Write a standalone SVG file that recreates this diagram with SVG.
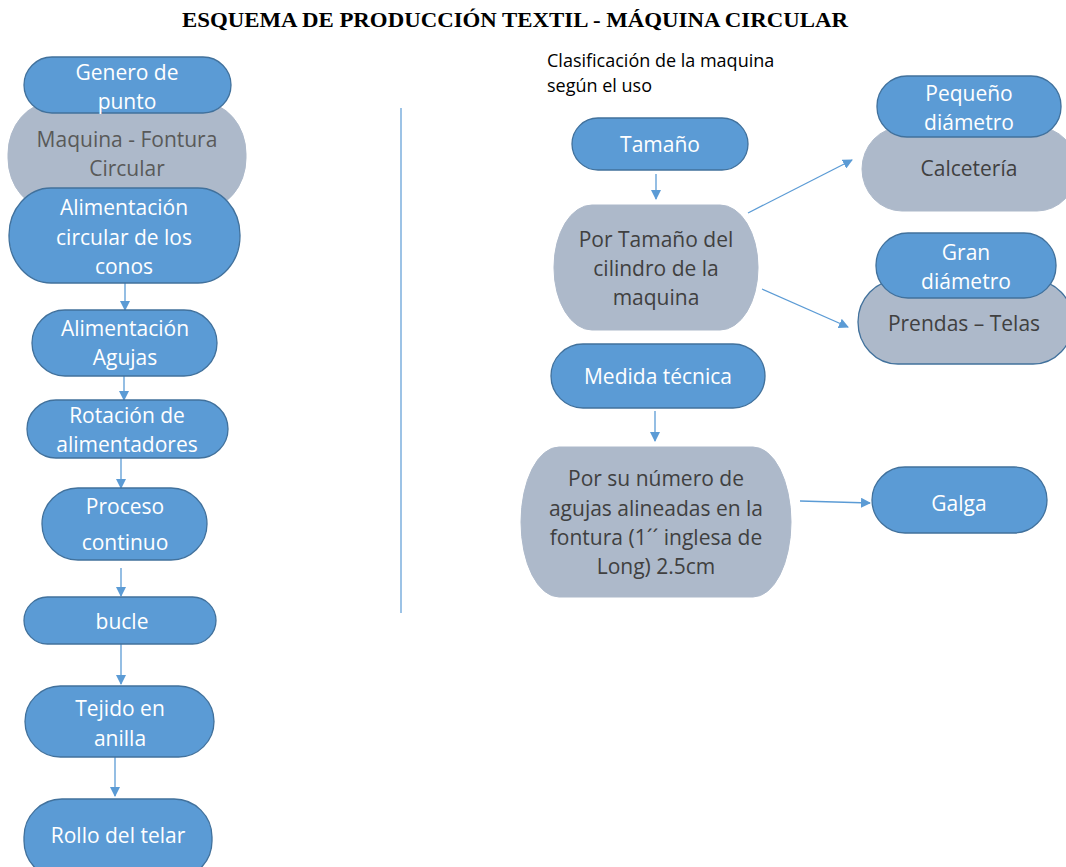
<svg xmlns="http://www.w3.org/2000/svg" width="1066" height="867" viewBox="0 0 1066 867">
<defs>
<marker id="ah" markerWidth="10" markerHeight="10" refX="9" refY="5" orient="auto" markerUnits="userSpaceOnUse">
<path d="M0,0 L10,5 L0,10 Z" fill="#5B9BD5"/>
</marker>
<style>
.b{fill:#5B9BD5;stroke:#41719C;stroke-width:1.3}
.g{fill:#ADB9CA;stroke:#ADB9CA;stroke-width:1}
.gs{fill:#ADB9CA;stroke:#41719C;stroke-width:1.3}
.tw{fill:#FFFFFF;font-family:"Open Sans","Noto Sans",sans-serif;font-size:21px;text-anchor:middle;dominant-baseline:central}
.tg{fill:#404040;font-family:"Open Sans","Noto Sans",sans-serif;font-size:21px;text-anchor:middle;dominant-baseline:central}
.c{stroke:#5B9BD5;stroke-width:1.3;fill:none;marker-end:url(#ah)}
</style>
</defs>
<rect width="1066" height="867" fill="#FFFFFF"/>
<text x="515" y="27" font-family="'Liberation Serif',serif" font-weight="bold" font-size="21" text-anchor="middle" textLength="666" lengthAdjust="spacingAndGlyphs" fill="#000">ESQUEMA DE PRODUCCIÓN TEXTIL - MÁQUINA CIRCULAR</text>

<line x1="401" y1="108" x2="401" y2="613" stroke="#5B9BD5" stroke-width="1.2"/>

<g id="connectors">
<line class="c" x1="125" y1="283" x2="125" y2="310"/>
<line class="c" x1="124" y1="376" x2="124" y2="400"/>
<line class="c" x1="121" y1="458" x2="121" y2="488"/>
<line class="c" x1="121" y1="568" x2="121" y2="596"/>
<line class="c" x1="121" y1="644" x2="121" y2="684"/>
<line class="c" x1="115" y1="757" x2="115" y2="796"/>
<line class="c" x1="656" y1="174" x2="656" y2="199"/>
<line class="c" x1="748" y1="213" x2="852" y2="160"/>
<line class="c" x1="762" y1="289" x2="848" y2="327"/>
<line class="c" x1="655" y1="411" x2="655" y2="441"/>
<line class="c" x1="800" y1="501" x2="870" y2="503"/>
</g>

<g id="maquina">
<rect class="g" x="8" y="102" width="238" height="108" rx="45" ry="52"/>
<text class="tg" x="127" y="139" fill="#595959" style="fill:#595959">Maquina - Fontura</text>
<text class="tg" x="127" y="168" style="fill:#595959">Circular</text>
</g>
<g id="genero">
<rect class="b" x="24" y="57" width="207" height="56" rx="28"/>
<text class="tw" x="127" y="72">Genero de</text>
<text class="tw" x="127" y="101">punto</text>
</g>
<g id="alim-conos">
<rect class="b" x="9" y="188" width="231" height="95" rx="42" ry="47"/>
<text class="tw" x="124" y="207">Alimentación</text>
<text class="tw" x="124" y="237">circular de los</text>
<text class="tw" x="124" y="266">conos</text>
</g>
<g id="alim-agujas">
<rect class="b" x="32" y="310" width="185" height="66" rx="33"/>
<text class="tw" x="125" y="328">Alimentación</text>
<text class="tw" x="125" y="357">Agujas</text>
</g>
<g id="rotacion">
<rect class="b" x="27" y="400" width="201" height="58" rx="29"/>
<text class="tw" x="127" y="415">Rotación de</text>
<text class="tw" x="127" y="444">alimentadores</text>
</g>
<g id="proceso">
<rect class="b" x="42" y="488" width="165" height="72" rx="36"/>
<text class="tw" x="125" y="506">Proceso</text>
<text class="tw" x="125" y="542">continuo</text>
</g>
<g id="bucle">
<rect class="b" x="24" y="597" width="192" height="47" rx="23.5"/>
<text class="tw" x="122" y="621">bucle</text>
</g>
<g id="tejido">
<rect class="b" x="25" y="686" width="189" height="71" rx="35.5"/>
<text class="tw" x="120" y="708">Tejido en</text>
<text class="tw" x="120" y="738">anilla</text>
</g>
<g id="rollo">
<rect class="b" x="24" y="799" width="188" height="80" rx="38"/>
<text class="tw" x="118" y="835">Rollo del telar</text>
</g>

<text x="547" y="67" font-family="'Open Sans','Noto Sans',sans-serif" font-size="18" fill="#000">Clasificación de la maquina</text>
<text x="547" y="92" font-family="'Open Sans','Noto Sans',sans-serif" font-size="18" fill="#000">según el uso</text>

<g id="tamano">
<rect class="b" x="572" y="118" width="176" height="52" rx="26"/>
<text class="tw" x="660" y="144">Tamaño</text>
</g>
<g id="por-tamano">
<rect class="g" x="554" y="205" width="204" height="125" rx="38" ry="62"/>
<text class="tg" x="656" y="239">Por Tamaño del</text>
<text class="tg" x="656" y="268">cilindro de la</text>
<text class="tg" x="656" y="297">maquina</text>
</g>
<g id="calceteria">
<rect class="g" x="862" y="127" width="215" height="84" rx="40" ry="42"/>
<text class="tg" x="969" y="168">Calcetería</text>
</g>
<g id="pequeno">
<rect class="b" x="877" y="76" width="184" height="61" rx="30"/>
<text class="tw" x="969" y="93">Pequeño</text>
<text class="tw" x="969" y="122">diámetro</text>
</g>
<g id="prendas">
<rect class="gs" x="858" y="280" width="215" height="84" rx="40" ry="42"/>
<text class="tg" x="964" y="323">Prendas – Telas</text>
</g>
<g id="gran">
<rect class="b" x="876" y="233" width="180" height="65" rx="32"/>
<text class="tw" x="966" y="252">Gran</text>
<text class="tw" x="966" y="281">diámetro</text>
</g>
<g id="medida">
<rect class="b" x="551" y="344" width="214" height="64" rx="32"/>
<text class="tw" x="658" y="376">Medida técnica</text>
</g>
<g id="por-numero">
<rect class="g" x="521" y="447" width="270" height="150" rx="38" ry="75"/>
<text class="tg" x="656" y="478">Por su número de</text>
<text class="tg" x="656" y="508">agujas alineadas en la</text>
<text class="tg" x="656" y="537">fontura (1´´ inglesa de</text>
<text class="tg" x="656" y="566">Long) 2.5cm</text>
</g>
<g id="galga">
<rect class="b" x="872" y="467" width="175" height="66" rx="33"/>
<text class="tw" x="959" y="503">Galga</text>
</g>
</svg>
